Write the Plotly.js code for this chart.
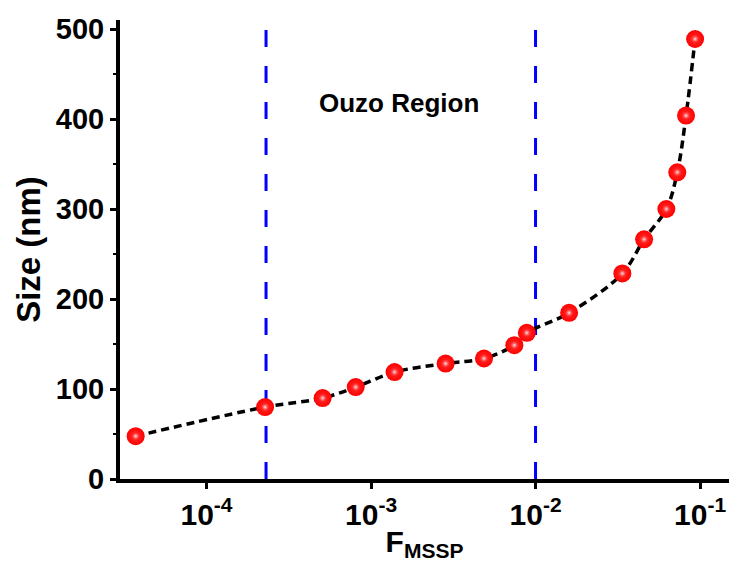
<!DOCTYPE html>
<html>
<head>
<meta charset="utf-8">
<script src="https://cdn.plot.ly/plotly-3.0.1.min.js"></script>
<style>html,body{margin:0;padding:0;background:#fff;}#chart{width:729px;height:562px;}</style>
</head>
<body>
<div id="chart"></div>
<script>
// Data
const fMSSP = [3.71e-5, 2.27e-4, 5.08e-4, 8.07e-4, 1.39e-3, 2.84e-3, 4.86e-3, 7.43e-3, 8.85e-3, 0.0160, 0.0337, 0.0457, 0.0624, 0.0727, 0.0822, 0.0933];
const sizeNm = [47.6, 79.9, 89.9, 102.1, 118.8, 128.3, 133.9, 148.7, 162.4, 184.6, 228.4, 266.3, 300.0, 340.8, 403.8, 488.9];
const regionBounds = [2.3e-4, 1e-2];
const regionLabel = "Ouzo Region";
const xTickVals = [1e-4, 1e-3, 1e-2, 1e-1];
const xTickText = ["10<sup>-4</sup>", "10<sup>-3</sup>", "10<sup>-2</sup>", "10<sup>-1</sup>"];
const yTickVals = [0, 100, 200, 300, 400, 500];

const FONT = "Liberation Sans, Arial, Helvetica, sans-serif";
const yMax = 510;

const traces = [];
regionBounds.forEach(b => {
  traces.push({
    x: [b, b], y: [0, yMax], mode: 'lines', hoverinfo: 'skip',
    line: {color: '#0000ff', width: 3, dash: '17px,19px'}, showlegend: false
  });
});
traces.push({
  x: fMSSP, y: sizeNm, mode: 'lines',
  line: {color: '#000', width: 3.5, dash: '8px,5px', shape: 'spline', smoothing: 1},
  showlegend: false
});
traces.push({
  x: fMSSP, y: sizeNm, mode: 'markers',
  marker: {size: 18, color: '#ff0000', line: {width: 0},
           gradient: {type: 'radial', color: '#ff3030'}},
  showlegend: false
});
traces.push({
  x: fMSSP, y: sizeNm, mode: 'markers', hoverinfo: 'skip',
  marker: {size: 9, color: 'rgba(255,40,40,0)', line: {width: 0},
           gradient: {type: 'radial', color: 'rgba(255,235,235,1)'}},
  showlegend: false
});

const layout = {
  width: 729, height: 562,
  margin: {l: 120, r: 0, t: 20, b: 83},
  paper_bgcolor: '#fff', plot_bgcolor: '#fff',
  font: {family: FONT, color: '#000'},
  xaxis: {
    type: 'log', range: [-4.526, -0.824],
    showgrid: false, zeroline: false,
    showline: true, linecolor: '#000', linewidth: 4,
    ticks: 'outside', ticklen: 6, tickwidth: 3, tickcolor: '#000',
    tickvals: xTickVals, ticktext: xTickText,
    tickfont: {family: FONT, size: 30, weight: 'bold', color: '#000'},
    title: {text: 'F<sub>MSSP</sub>', font: {family: FONT, size: 30, weight: 'bold', color: '#000'}, standoff: 2}
  },
  yaxis: {
    range: [0, yMax],
    showgrid: false, zeroline: false,
    showline: true, linecolor: '#000', linewidth: 4,
    ticks: 'outside', ticklen: 6, tickwidth: 3, tickcolor: '#000',
    tickvals: yTickVals,
    tickfont: {family: FONT, size: 29, weight: 'bold', color: '#000'},
    minor: {ticks: 'outside', ticklen: 3, tickwidth: 2, tickcolor: '#000', dtick: 50, showgrid: false},
    title: {text: 'Size (nm)', font: {family: FONT, size: 33, weight: 'bold', color: '#000'}, standoff: 6}
  },
  annotations: [{
    x: Math.log10(Math.sqrt(regionBounds[0] * regionBounds[1]) * 0.98), y: 418,
    xref: 'x', yref: 'y', text: regionLabel, showarrow: false,
    font: {family: FONT, size: 26, weight: 'bold', color: '#000'}
  }]
};

Plotly.newPlot('chart', traces, layout, {displayModeBar: false, staticPlot: true});
</script>
</body>
</html>
